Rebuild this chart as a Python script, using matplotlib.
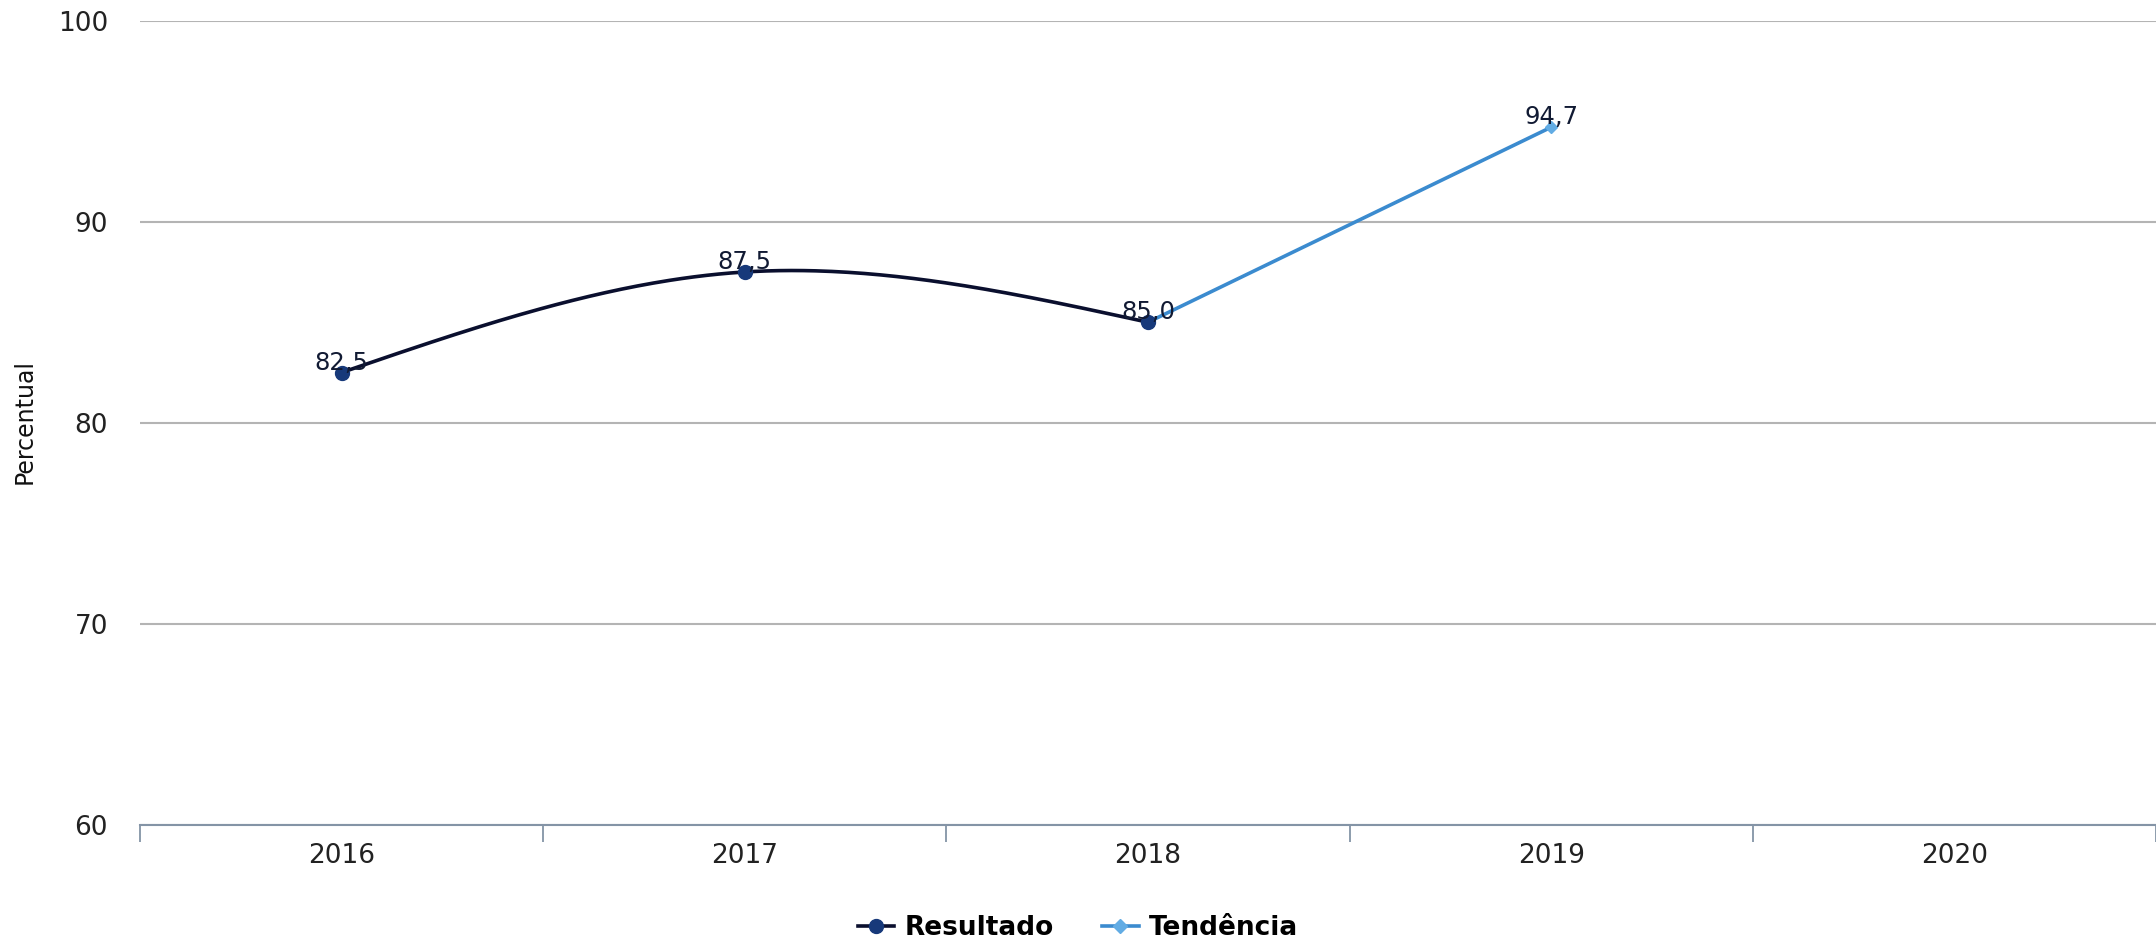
import numpy as np
import matplotlib.pyplot as plt
from matplotlib.lines import Line2D

anos = ['2016', '2017', '2018', '2019', '2020']
resultado = [82.5, 87.5, 85.0]          # 2016-2018
tendencia_x = [2, 3]                    # 2018 -> 2019
tendencia = [85.0, 94.7]

cor_res_linha = '#0a0f2e'
cor_res_marca = '#17397a'
cor_tend = '#3b8bcf'
cor_tend_marca = '#62ace4'


def spline_natural(x, y, n=200):
    # spline cubica natural so para desenhar a curva suave
    x = np.asarray(x, float)
    y = np.asarray(y, float)
    k = len(x)
    h = np.diff(x)
    A = np.zeros((k, k))
    b = np.zeros(k)
    A[0, 0] = 1
    A[-1, -1] = 1
    for i in range(1, k - 1):
        A[i, i - 1] = h[i - 1]
        A[i, i] = 2 * (h[i - 1] + h[i])
        A[i, i + 1] = h[i]
        b[i] = 6 * ((y[i + 1] - y[i]) / h[i] - (y[i] - y[i - 1]) / h[i - 1])
    M = np.linalg.solve(A, b)
    xs = np.linspace(x[0], x[-1], n)
    ys = np.zeros_like(xs)
    for j, t in enumerate(xs):
        i = min(np.searchsorted(x, t, side='right') - 1, k - 2)
        hi = h[i]
        a = (x[i + 1] - t) / hi
        c = (t - x[i]) / hi
        ys[j] = (a * y[i] + c * y[i + 1]
                 + ((a ** 3 - a) * M[i] + (c ** 3 - c) * M[i + 1]) * hi ** 2 / 6)
    return xs, ys


fig = plt.figure(figsize=(21.56, 9.42), dpi=100)
ax = fig.add_axes([140 / 2156, 1 - 825 / 942, 1 - 140 / 2156, (825 - 20.6) / 942])

x_res = np.arange(len(resultado))
xs, ys = spline_natural(x_res, resultado)

ax.plot(tendencia_x, tendencia, color=cor_tend, lw=2.6, zorder=3)
ax.plot(tendencia_x, tendencia, 'D', color=cor_tend_marca, ms=6, zorder=4)

ax.plot(xs, ys, color=cor_res_linha, lw=2.6, zorder=5)
ax.plot(x_res, resultado, 'o', color=cor_res_marca, ms=10, zorder=6)

for xi, v in zip(x_res, resultado):
    ax.annotate(f'{v:.1f}'.replace('.', ','), (xi, v), xytext=(0, 2),
                textcoords='offset points', ha='center', va='baseline',
                fontsize=17.5, color='#111a33', zorder=7)
ax.annotate(f'{tendencia[-1]:.1f}'.replace('.', ','), (tendencia_x[-1], tendencia[-1]),
            xytext=(0, 2), textcoords='offset points', ha='center', va='baseline',
            fontsize=17.5, color='#111a33', zorder=7)

ax.set_xlim(-0.5, len(anos) - 0.5)
ax.set_ylim(60, 100)
ax.set_yticks([60, 70, 80, 90, 100])
ax.set_xticks(range(len(anos)))
ax.set_xticklabels(anos)
ax.set_xticks(np.arange(-0.5, len(anos)), minor=True)
ax.tick_params(axis='x', which='major', length=0, pad=13, labelsize=19, labelcolor='#222222')
ax.tick_params(axis='x', which='minor', length=12, width=1.3, color='#8494a6')
ax.tick_params(axis='y', length=0, pad=23, labelsize=19, labelcolor='#222222')

ax.grid(axis='y', color='#b4b4b4', lw=1.5)
ax.set_axisbelow(True)
for s in ['top', 'right', 'left']:
    ax.spines[s].set_visible(False)
ax.spines['bottom'].set_color('#8494a6')
ax.spines['bottom'].set_linewidth(1.5)
ax.spines['bottom'].set_zorder(2)

fig.text(25 / 2156, 1 - 422 / 942, 'Percentual', rotation=90, ha='center', va='center',
         fontsize=17, color='#111111')

handles = [
    Line2D([], [], color=cor_res_linha, lw=2.6, marker='o', ms=10, mfc=cor_res_marca, mec=cor_res_marca),
    Line2D([], [], color=cor_tend, lw=2.6, marker='D', ms=7, mfc=cor_tend_marca, mec=cor_tend_marca),
]
fig.legend(handles, ['Resultado', 'Tendência'], loc='center', bbox_to_anchor=(0.5, 1 - 928 / 942),
           ncol=2, frameon=False, prop={'weight': 'bold', 'size': 19},
           handlelength=1.4, handletextpad=0.4, columnspacing=1.8)

fig.savefig('out.png', dpi=100)
